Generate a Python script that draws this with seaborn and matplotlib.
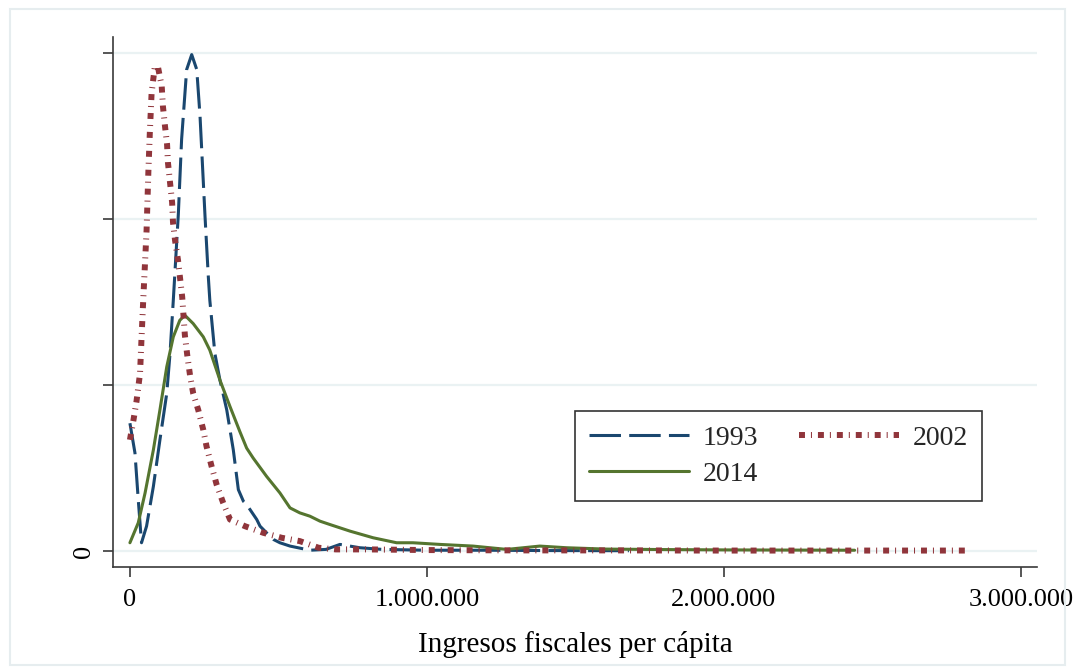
import matplotlib
matplotlib.use("Agg")
import matplotlib.pyplot as plt
import seaborn as sns
import pandas as pd
from matplotlib.patches import Rectangle
from matplotlib.ticker import FuncFormatter
from matplotlib.lines import Line2D

# ---- data (x in thousands of pesos, y = kernel density in arbitrary units; ticks at 0..3) ----
x_1993 = [0, 17, 28, 39, 56, 79, 101, 124, 135, 146, 163, 174, 191, 208, 225, 236, 253,
          264, 269, 286, 303, 326, 348, 365, 382, 393, 427, 438, 460, 483, 505, 539,
          606, 660, 707, 774, 850, 1000, 1200, 1400, 1680]
y_1993 = [0.77, 0.59, 0.31, 0.05, 0.15, 0.39, 0.67, 0.95, 1.19, 1.51, 2.03, 2.48, 2.90,
          2.99, 2.90, 2.62, 2.01, 1.65, 1.51, 1.19, 1.03, 0.85, 0.61, 0.37, 0.30, 0.28,
          0.19, 0.15, 0.11, 0.07, 0.05, 0.03, 0.005, 0.01, 0.04, 0.02, 0.01, 0.005,
          0.005, 0.003, 0.002]

x_2002 = [0, 12, 22, 34, 39, 45, 56, 62, 67, 73, 84, 95, 107, 111, 118, 125, 128, 135,
          142, 145, 152, 162, 169, 176, 185, 193, 203, 213, 230, 247, 258, 275, 292,
          314, 337, 387, 449, 511, 572, 635, 693, 800, 1000, 1300, 1600, 2000, 2400,
          2820]
y_2002 = [0.67, 0.79, 0.90, 1.07, 1.28, 1.52, 1.93, 2.28, 2.52, 2.76, 2.92, 2.91, 2.80,
          2.68, 2.56, 2.45, 2.34, 2.22, 2.10, 1.98, 1.87, 1.75, 1.64, 1.53, 1.30, 1.18,
          1.05, 0.95, 0.85, 0.73, 0.63, 0.51, 0.40, 0.29, 0.19, 0.15, 0.11, 0.08, 0.06,
          0.02, 0.01, 0.01, 0.006, 0.004, 0.004, 0.003, 0.003, 0.003]

x_2014 = [0, 28, 51, 79, 101, 124, 146, 168, 185, 213, 247, 269, 303, 337, 370, 393,
          415, 460, 505, 539, 572, 606, 640, 673, 741, 819, 898, 953, 1044, 1155, 1269,
          1380, 1470, 1600, 1800, 2000, 2200, 2440]
y_2014 = [0.05, 0.17, 0.35, 0.61, 0.85, 1.11, 1.29, 1.39, 1.42, 1.37, 1.29, 1.21, 1.03,
          0.87, 0.72, 0.62, 0.56, 0.45, 0.35, 0.26, 0.23, 0.21, 0.18, 0.16, 0.12, 0.08,
          0.05, 0.05, 0.04, 0.03, 0.01, 0.03, 0.02, 0.012, 0.009, 0.007, 0.006, 0.005]

x_ticks = [0, 1_000_000, 2_000_000, 3_000_000]
y_ticks = [0, 1, 2, 3]
y_tick_labels = ["0", "", "", ""]
x_label = "Ingresos fiscales per cápita"

c_1993 = "#1a476f"
c_2002 = "#90353b"
c_2014 = "#55752f"

sns.set_theme(style="white")
plt.rcParams["font.family"] = ["Liberation Serif", "DejaVu Serif"]

fig = plt.figure(figsize=(10.76, 6.67), dpi=100)
fig.patch.set_facecolor("white")
fig.patches.append(Rectangle((10 / 1076, 2 / 667), 1055 / 1076, 656 / 667,
                             transform=fig.transFigure, fill=False,
                             edgecolor="#e6edef", lw=1.5))
ax = fig.add_axes([113 / 1076, 100 / 667, 924 / 1076, 530 / 667])
ax.set_facecolor("white")

d93 = pd.DataFrame({"x": [v * 1000 for v in x_1993], "y": y_1993})
d02 = pd.DataFrame({"x": [v * 1000 for v in x_2002], "y": y_2002})
d14 = pd.DataFrame({"x": [v * 1000 for v in x_2014], "y": y_2014})

sty_93 = dict(color=c_1993, lw=2.2, linestyle=(0, (10.3, 2.7)))
sty_14 = dict(color=c_2014, lw=2.2)
sty_02 = dict(color=c_2002, lw=4.3, linestyle=(0, (1, 1, 0.17, 1)))

sns.lineplot(data=d93, x="x", y="y", ax=ax, estimator=None, sort=False, zorder=3, **sty_93)
sns.lineplot(data=d14, x="x", y="y", ax=ax, estimator=None, sort=False, zorder=4, **sty_14)
sns.lineplot(data=d02, x="x", y="y", ax=ax, estimator=None, sort=False, zorder=5, **sty_02)

ax.set_xlim(-57_000, 3_054_000)
ax.set_ylim(-0.096, 3.096)
ax.set_xticks(x_ticks)
ax.xaxis.set_major_formatter(FuncFormatter(lambda v, p: f"{int(v):,}".replace(",", ".")))
ax.set_yticks(y_ticks)
ax.set_yticklabels(y_tick_labels, rotation=90, va="center")
ax.yaxis.grid(True, color="#eaf2f3", lw=1.6)
ax.xaxis.grid(False)
ax.set_axisbelow(True)

for s in ["top", "right"]:
    ax.spines[s].set_visible(False)
for s in ["left", "bottom"]:
    ax.spines[s].set_color("#3a3a3a")
    ax.spines[s].set_linewidth(1.2)
ax.tick_params(axis="both", direction="out", length=7.2, width=1.2, color="#3a3a3a",
               labelsize=19, labelcolor="black", left=True, bottom=True)
ax.tick_params(axis="x", pad=9)
ax.tick_params(axis="y", pad=6)

ax.set_xlabel(x_label, fontsize=21, labelpad=14, color="black")
ax.set_ylabel("")

handles = [Line2D([], [], **sty_93), Line2D([], [], **sty_14), Line2D([], [], **sty_02)]
labels = ["1993", "2014", "2002"]
leg = ax.legend(handles, labels, ncol=2, loc="upper left",
                bbox_to_anchor=(0.5, 0.294), borderaxespad=0, fontsize=20,
                frameon=True, fancybox=False, edgecolor="black", handlelength=3.6,
                handletextpad=0.5, columnspacing=1.45, labelspacing=0.4,
                borderpad=0.5)
leg.get_frame().set_linewidth(1.2)

fig.savefig("out.png", dpi=100, facecolor="white")
